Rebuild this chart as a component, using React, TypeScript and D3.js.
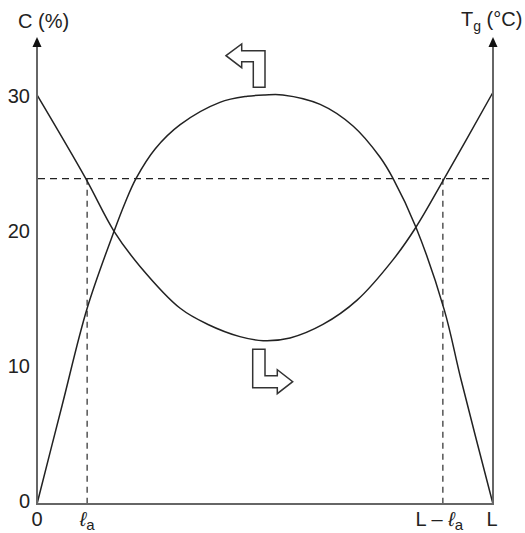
import React from 'react';
import * as d3 from 'd3';

// position along the pipe, 0..L (as % of L)
const hillX = [0, 5.5, 11, 16.9, 19.3, 21.7, 25.9, 31.4, 40.1, 46.1, 50, 53.9, 62.1, 69.3, 75.2, 78.1, 83.1, 89.3, 93, 100];
// C (%) curve
const hillC = [0, 7.3, 14.5, 20.2, 22.3, 24.1, 26.3, 28.1, 29.75, 30.2, 30.3, 30.3, 29.6, 28.0, 25.7, 24.1, 20.5, 14.4, 9.2, 0];
const valleyX = [0, 10.7, 16.9, 22.6, 31.4, 37.5, 44.5, 49.6, 55.5, 62.7, 70.2, 78.1, 83.1, 89.3, 100];
// Tg curve
const valleyT = [30.3, 24.1, 20.2, 17.6, 14.5, 13.3, 12.4, 12.1, 12.3, 13.3, 15.1, 18.1, 20.5, 24.1, 30.5];
const yTicks = [0, 10, 20, 30];
const levelC = 24.1;
const la = 11;

const W = 525;
const H = 533;
const font = '"Liberation Sans", Arial, sans-serif';

export default function App() {
  const x = d3.scaleLinear().domain([0, 100]).range([37, 493]);
  const y = d3.scaleLinear().domain([0, 30]).range([504, 99]);

  const line = d3
    .line<[number, number]>()
    .x((d) => x(d[0]))
    .y((d) => y(d[1]))
    .curve(d3.curveCatmullRom.alpha(0.5));

  const hill = line(hillX.map((v, i) => [v, hillC[i]]) as [number, number][]) || '';
  const valley = line(valleyX.map((v, i) => [v, valleyT[i]]) as [number, number][]) || '';

  const axisColor = '#666';
  const top = 37;

  const upArrow = 'M226,55.7 L241.7,44 L241.7,50.7 L265,50.7 L265,87.3 L253.3,87.3 L253.3,61.7 L241.7,61.7 L241.7,67.7 Z';
  const downArrow = 'M252.7,349.3 L265,349.3 L265,375.7 L277.3,375.7 L277.3,369.7 L292.7,381.7 L277.3,393.7 L277.3,387.7 L252.7,387.7 Z';

  return (
    <svg
      width={W}
      height={H}
      style={{ position: 'absolute', left: 0, top: 0, background: '#fff' }}
      fontFamily={font}
    >
      {/* dashed guides */}
      <line x1={x(0) + 1} x2={x(100) - 1} y1={y(levelC)} y2={y(levelC)} stroke="#222" strokeWidth={1.2} strokeDasharray="7,5" />
      <line x1={x(la)} x2={x(la)} y1={y(levelC)} y2={y(0)} stroke="#555" strokeWidth={1.5} strokeDasharray="6,5" />
      <line x1={x(100 - la)} x2={x(100 - la)} y1={y(levelC)} y2={y(0)} stroke="#555" strokeWidth={1.5} strokeDasharray="6,5" />

      {/* curves */}
      <path d={hill} fill="none" stroke="#222" strokeWidth={1.5} />
      <path d={valley} fill="none" stroke="#222" strokeWidth={1.5} />

      {/* axes */}
      <line x1={x(0)} x2={x(0)} y1={y(0) + 1} y2={top + 8} stroke={axisColor} strokeWidth={2} />
      <line x1={x(100)} x2={x(100)} y1={y(0) + 1} y2={top + 8} stroke={axisColor} strokeWidth={2} />
      <line x1={x(0)} x2={x(100)} y1={y(0)} y2={y(0)} stroke={axisColor} strokeWidth={2} />
      <path d={`M${x(0)},${top} L${x(0) - 4.5},${top + 10} L${x(0) + 4.5},${top + 10} Z`} fill="#111" />
      <path d={`M${x(100)},${top} L${x(100) - 4.5},${top + 10} L${x(100) + 4.5},${top + 10} Z`} fill="#111" />

      {/* y tick labels */}
      {yTicks.map((t) => (
        <text key={t} x={30} y={y(t) - 3} dy="0.35em" textAnchor="end" fontSize={20} fill="#222">
          {t}
        </text>
      ))}

      {/* axis titles */}
      <text x={18} y={28} fontSize={20} fill="#222">C (%)</text>
      <text x={461} y={26} fontSize={20} fill="#222">
        T<tspan fontSize={14} dy={5}>g</tspan>
        <tspan dy={-5}> (°C)</tspan>
      </text>

      {/* x labels */}
      <text x={x(0)} y={526} textAnchor="middle" fontSize={20} fill="#222">0</text>
      <text x={x(la)} y={526} textAnchor="middle" fontSize={20} fill="#222">
        <tspan fontStyle="italic">ℓ</tspan>
        <tspan fontSize={15} dy={4}>a</tspan>
      </text>
      <text x={463} y={526} textAnchor="end" fontSize={20} fill="#222">
        L – <tspan fontStyle="italic">ℓ</tspan>
        <tspan fontSize={15} dy={4}>a</tspan>
      </text>
      <text x={x(100) - 1} y={526} textAnchor="middle" fontSize={20} fill="#222">L</text>

      {/* direction arrows */}
      <path d={upArrow} fill="#fff" stroke="#333" strokeWidth={1.5} />
      <path d={downArrow} fill="#fff" stroke="#333" strokeWidth={1.5} />
    </svg>
  );
}
